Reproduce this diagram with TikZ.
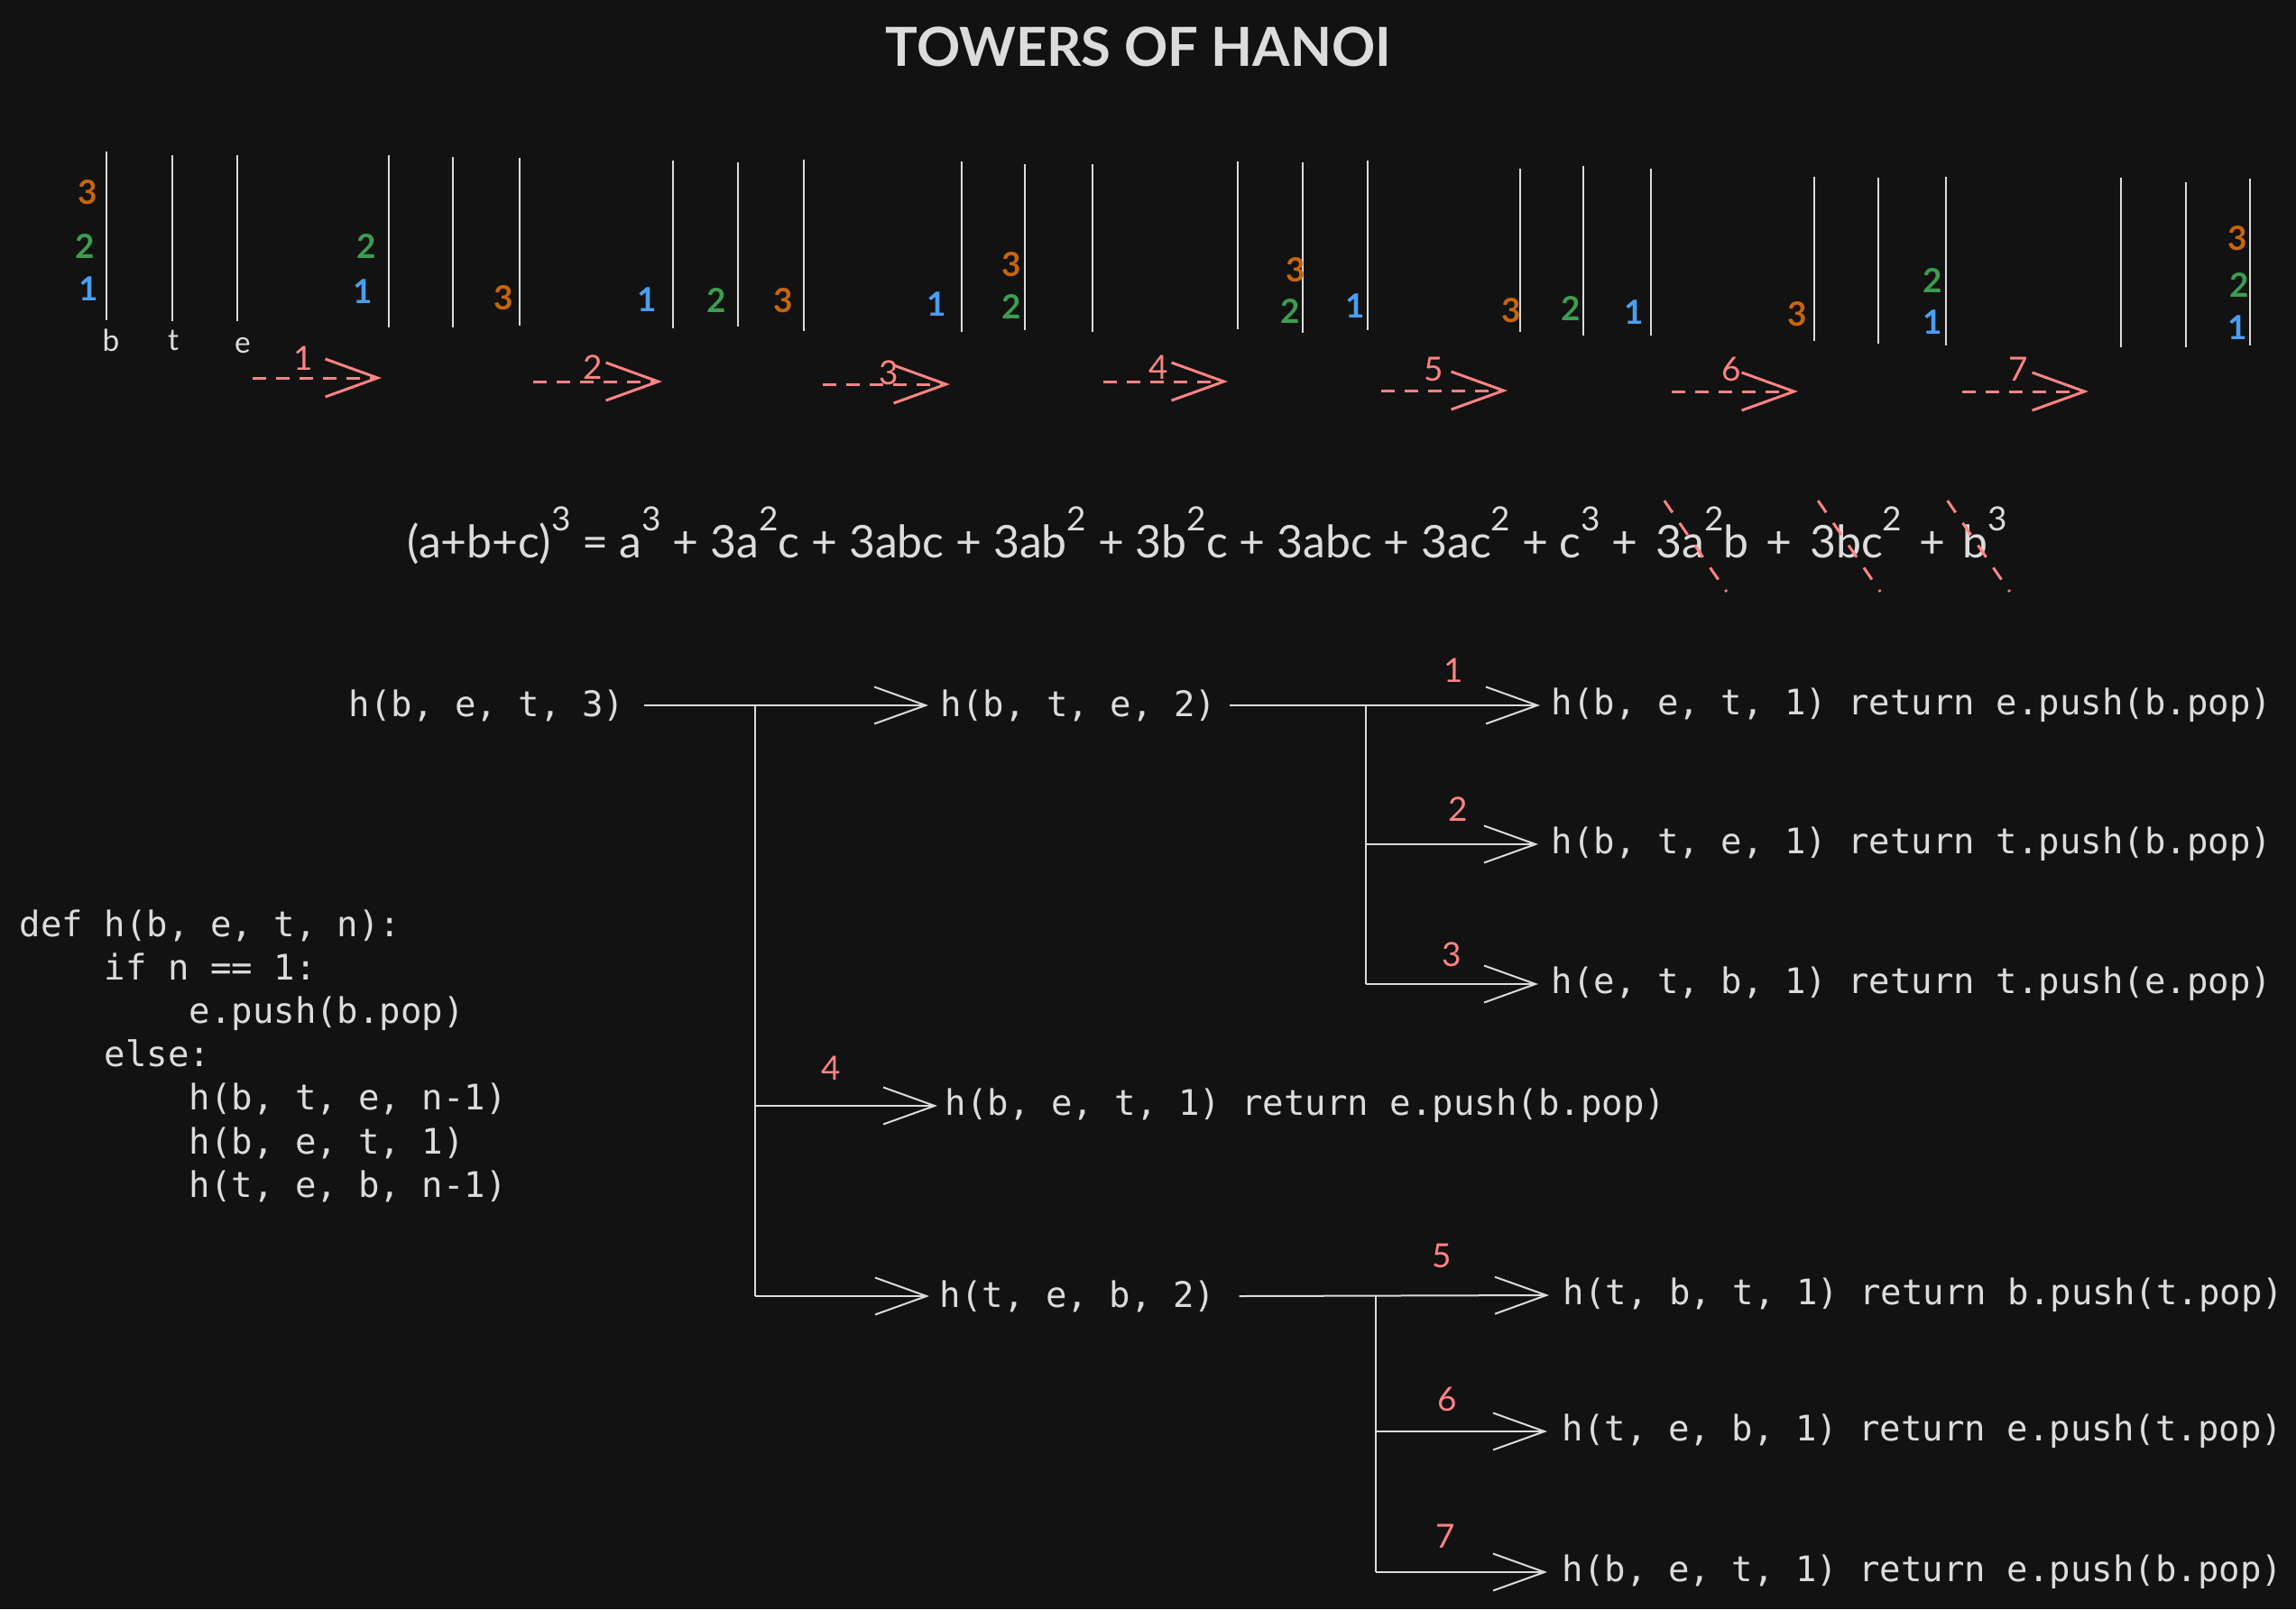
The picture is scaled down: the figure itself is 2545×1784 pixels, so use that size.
\documentclass[tikz,border=0pt]{standalone}
\usepackage{fontspec}
\newfontfamily\handfont{Lato}
\newfontfamily\codefont{DejaVu Sans Mono}
\usetikzlibrary{arrows.meta,positioning,calc}
\definecolor{bgc}{HTML}{121212}
\definecolor{ink}{HTML}{DCDCDC}
\definecolor{redink}{HTML}{FF8383}
\definecolor{dska}{HTML}{4A9EF0}
\definecolor{dskb}{HTML}{3B9E4F}
\definecolor{dskc}{HTML}{C8650A}
\tikzset{
  code/.style  ={anchor=west,inner sep=0pt,text=ink,
                 font=\codefont\fontsize{11.1pt}{13.7pt}\selectfont},
  hand/.style  ={inner sep=0pt,font=\handfont\fontsize{10.5pt}{12pt}\selectfont},
  num/.style   ={hand,text=redink},
  disk/.style  ={hand,font=\handfont\bfseries\fontsize{10.5pt}{12pt}\selectfont},
  eqn/.style   ={inner sep=0pt,text=ink,font=\handfont\fontsize{14.2pt}{16pt}\selectfont},
  pole/.style  ={draw=ink,line width=0.25mm},
  move/.style  ={draw=redink,line width=0.3mm,dash pattern=on 1.5mm off 1.1mm,
                 -{Straight Barb[length=5.8mm,width=4.2mm]}},
  ar/.style    ={draw=ink,line width=0.2mm,-{Straight Barb[length=5.7mm,width=4.1mm]}},
  trunk/.style ={draw=ink,line width=0.18mm},
  strike/.style={draw=redink,line width=0.3mm,dash pattern=on 1.6mm off 1.4mm},
}
\newcommand{\pw}[1]{\raisebox{0.6em}{\fontsize{10.5pt}{12pt}\selectfont #1}}
\newcommand{\indt}{\phantom{0000}}

\begin{document}
\begin{tikzpicture}[x=0.1mm,y=-0.1mm]
\useasboundingbox[fill=bgc] (0,0) rectangle (2545,1784);

\node[hand,text=ink,font=\handfont\bfseries\fontsize{17pt}{20pt}\selectfont] (title) at (1262,52) {TOWERS OF HANOI};

% the eight states of the towers
\foreach \xa/\ya/\yb in {118/168/355, 191/172/356, 263/172/356,
    431/172/363, 502/174/363, 576/175/361,
    746/178/364, 818/180/362, 891/177/367,
    1066/179/368, 1136/182/366, 1211/182/368,
    1372/179/365, 1444/180/369, 1516/178/366,
    1685/187/368, 1755/184/372, 1830/187/372,
    2011/196/378, 2082/197/381, 2157/196/383,
    2351/197/385, 2423/202/385, 2494/198/383}
  \draw[pole] (\xa,\ya) -- (\xa,\yb);

\foreach \xa/\ya/\c/\d [count=\i] in {97/213/dskc/3, 94/273/dskb/2, 98/320/dska/1,
    406/273/dskb/2, 402/323/dska/1, 558/330/dskc/3,
    717/332/dska/1, 794/333/dskb/2, 868/333/dskc/3,
    1038/337/dska/1, 1121/293/dskc/3, 1121/340/dskb/2,
    1436/299/dskc/3, 1430/345/dskb/2, 1502/339/dska/1,
    1675/344/dskc/3, 1741/342/dskb/2, 1811/346/dska/1,
    1992/348/dskc/3, 2142/311/dskb/2, 2142/357/dska/1,
    2480/264/dskc/3, 2482/316/dskb/2, 2480/363/dska/1}
  \node[disk,text=\c] (dk\i) at (\xa,\ya) {\d};

\node[hand,text=ink,font=\handfont\fontsize{9.5pt}{11pt}\selectfont] (pb) at (123,377) {b};
\node[hand,text=ink,font=\handfont\fontsize{9.5pt}{11pt}\selectfont] (pt) at (192,377) {t};
\node[hand,text=ink,font=\handfont\fontsize{9.5pt}{11pt}\selectfont] (pe) at (269,383) {e};

% moves between the states
\foreach \i/\xa/\xb/\ya/\lx/\ly in {1/280/423/419/336/397, 2/591/734/423/657/407,
    3/912/1053/426/985/413, 4/1223/1361/423/1284/407, 5/1531/1671/433/1589/409,
    6/1853/1993/434/1919/409, 7/2175/2315/434/2237/409}{
  \coordinate (m\i a) at (\xa,\ya);
  \coordinate (m\i b) at (\xb,\ya);
  \draw[move] (m\i a) -- (m\i b);
  \node[num] (ml\i) at (\lx,\ly) {\i};
}

% expansion
\node[eqn,anchor=base west] (eq) at (451,618) {(a+b+c)\pw{3} = a\pw{3} + 3a\pw{2}c + 3abc + 3ab\pw{2} + 3b\pw{2}c + 3abc + 3ac\pw{2} + c\pw{3} +};
\node[eqn,base right=1.8mm of eq] (xa) {3a\pw{2}b};
\node[eqn,base right=1.8mm of xa] (pa) {+};
\node[eqn,base right=1.8mm of pa] (xb) {3bc\pw{2}};
\node[eqn,base right=1.8mm of xb] (pc) {+};
\node[eqn,base right=1.8mm of pc] (xc) {b\pw{3}};
\foreach \k in {xa,xb,xc}
  \draw[strike] ($(\k.base)+(-42,-63)$) -- ($(\k.base)+(27,38)$);

% code
\node[code,anchor=north west,align=left] (prog) at (21,1008) {def h(b, e, t, n):\\
\indt if n == 1:\\
\indt\indt e.push(b.pop)\\
\indt else:\\
\indt\indt h(b, t, e, n-1)\\
\indt\indt h(b, e, t, 1)\\
\indt\indt h(t, e, b, n-1)};

% call tree
\node[code] (root) at (386,782) {h(b, e, t, 3)};
\node[code] (sa) at (1042,782) {h(b, t, e, 2)};
\node[code] (la) at (1719,782) {h(b, e, t, 1) return e.push(b.pop)};
\node[code] (lb) at (1719,936) {h(b, t, e, 1) return t.push(b.pop)};
\node[code] (lc) at (1719,1091) {h(e, t, b, 1) return t.push(e.pop)};
\node[code] (ld) at (1047,1226) {h(b, e, t, 1) return e.push(b.pop)};
\node[code] (sb) at (1041,1437) {h(t, e, b, 2)};
\node[code] (le) at (1732,1436) {h(t, b, t, 1) return b.push(t.pop)};
\node[code] (lf) at (1731,1587) {h(t, e, b, 1) return e.push(t.pop)};
\node[code] (lg) at (1731,1743) {h(b, e, t, 1) return e.push(b.pop)};

\coordinate (ja) at (837,782);
\coordinate (jb) at (1514,782);
\coordinate (jc) at (1525,1436);

\draw[ar] ([xshift=2.1mm]root.east) -- ([xshift=-1.3mm]sa.west);
\draw[trunk] (ja) -- (ja |- sb.west);
\draw[ar] (ja |- ld.west) -- ([xshift=-0.8mm]ld.west);
\draw[ar] (ja |- sb.west) -- ([xshift=-1.1mm]sb.west);

\draw[ar] ([xshift=1.4mm]sa.east) -- ([xshift=-1.2mm]la.west);
\draw[trunk] (jb) -- (jb |- lc.west);
\draw[ar] (jb |- lb.west) -- ([xshift=-1.4mm]lb.west);
\draw[ar] (jb |- lc.west) -- ([xshift=-1.4mm]lc.west);

\draw[ar] ([xshift=2.6mm]sb.east) -- ([xshift=-1.5mm]le.west);
\draw[trunk] (jc) -- (jc |- lg.west);
\draw[ar] (jc |- lf.west) -- ([xshift=-1.6mm]lf.west);
\draw[ar] (jc |- lg.west) -- ([xshift=-1.6mm]lg.west);

\node[num] (ka) at (1611,743) {1};
\node[num] (kb) at (1616,897) {2};
\node[num] (kc) at (1609,1058) {3};
\node[num] (kd) at (921,1184) {4};
\node[num] (ke) at (1598,1392) {5};
\node[num] (kf) at (1604,1551) {6};
\node[num] (kg) at (1602,1703) {7};
\end{tikzpicture}
\end{document}
